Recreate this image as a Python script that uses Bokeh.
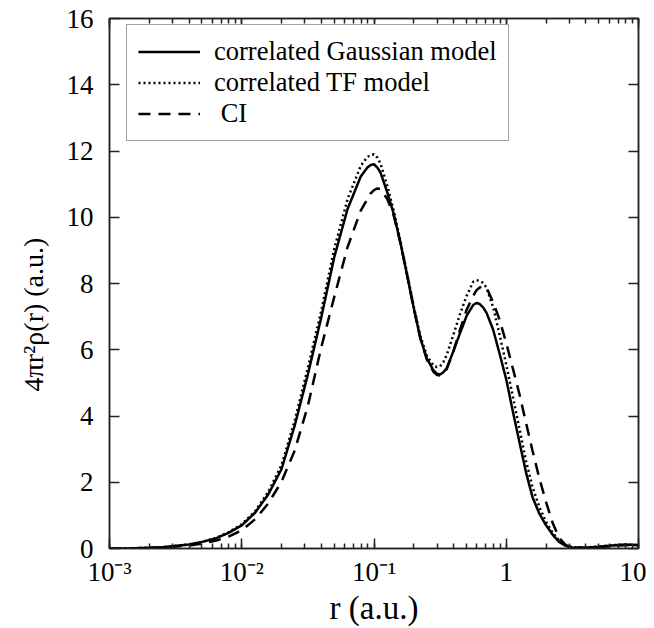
from bokeh.plotting import figure
from bokeh.models import (Range1d, LogAxis, LinearAxis, LogTicker, SingleIntervalTicker,
                          CustomJSTickFormatter, Legend, LegendItem, Title)
from bokeh.embed import file_html
from bokeh.resources import INLINE

# radial coordinate r (a.u.)
r = [0.001, 0.00158, 0.00251, 0.00398, 0.00501, 0.00631, 0.00794, 0.01, 0.0126, 0.0158,
     0.02, 0.0251, 0.0316, 0.0398, 0.0501, 0.0631, 0.0794, 0.0891, 0.0944, 0.1,
     0.106, 0.112, 0.126, 0.141, 0.158, 0.178, 0.2, 0.224, 0.251, 0.282,
     0.299, 0.316, 0.335, 0.355, 0.398, 0.447, 0.501, 0.562, 0.596, 0.631,
     0.668, 0.708, 0.794, 0.891, 1.0, 1.12, 1.26, 1.41, 1.58, 1.78,
     2.0, 2.24, 2.51, 2.82, 3.16, 3.98, 5.01, 6.31, 7.94, 10.0]

gauss = [0.0, 0.01, 0.04, 0.12, 0.2, 0.3, 0.47, 0.7, 1.08, 1.62,
         2.4, 3.7, 5.25, 6.95, 8.8, 10.25, 11.23, 11.5, 11.58, 11.6,
         11.5, 11.35, 10.75, 10.1, 9.25, 8.25, 7.25, 6.35, 5.73, 5.38,
         5.28, 5.25, 5.32, 5.45, 5.95, 6.5, 7.02, 7.35, 7.41, 7.38,
         7.28, 7.12, 6.62, 5.88, 5.1, 4.15, 3.2, 2.3, 1.55, 1.05,
         0.7, 0.42, 0.2, 0.08, 0.03, 0.02, 0.05, 0.09, 0.12, 0.1]

tf = [0.0, 0.01, 0.04, 0.12, 0.2, 0.31, 0.49, 0.73, 1.12, 1.7,
      2.52, 3.85, 5.45, 7.15, 9.05, 10.55, 11.55, 11.82, 11.88, 11.9,
      11.8, 11.62, 10.95, 10.2, 9.3, 8.3, 7.3, 6.42, 5.82, 5.52,
      5.48, 5.5, 5.63, 5.85, 6.45, 7.08, 7.62, 8.05, 8.1, 8.08,
      8.02, 7.88, 7.3, 6.45, 5.55, 4.6, 3.6, 2.65, 1.85, 1.25,
      0.8, 0.48, 0.24, 0.1, 0.04, 0.03, 0.06, 0.1, 0.12, 0.11]

ci = [0.0, 0.01, 0.03, 0.09, 0.15, 0.23, 0.36, 0.55, 0.88, 1.35,
      2.02, 2.95, 4.3, 6.05, 7.6, 9.1, 10.2, 10.55, 10.72, 10.82,
      10.87, 10.85, 10.55, 10.05, 9.25, 8.25, 7.25, 6.35, 5.7, 5.33,
      5.24, 5.22, 5.28, 5.42, 5.95, 6.6, 7.2, 7.62, 7.8, 7.88,
      7.92, 7.88, 7.45, 6.9, 6.2, 5.45, 4.65, 3.8, 2.95, 2.12,
      1.4, 0.78, 0.32, 0.1, 0.04, 0.02, 0.04, 0.08, 0.1, 0.09]

x_tick_exps = [-3, -2, -1, 0, 1]
x_tick_labels = ["10⁻³", "10⁻²", "10⁻¹", "1", "10"]
series_labels = ["correlated Gaussian model", "correlated TF model", " CI"]
x_title = "r (a.u.)"
y_title = "4πr²ρ(r) (a.u.)"

FONT = "Liberation Serif"
AX = "#222222"

p = figure(width=646, height=628, x_axis_type="log",
           x_range=Range1d(1e-3, 10), y_range=Range1d(0, 16),
           output_backend="svg", toolbar_location=None,
           min_border_left=109, min_border_right=8,
           min_border_top=18, min_border_bottom=79)
p.xgrid.visible = False
p.ygrid.visible = False
p.outline_line_color = AX
p.outline_line_width = 1.5
p.background_fill_color = "white"
p.border_fill_color = "white"

xt = LogTicker(num_minor_ticks=10, desired_num_ticks=5)
yt = SingleIntervalTicker(interval=2, num_minor_ticks=0)

xa = p.xaxis[0]
xa.ticker = xt
xa.formatter = CustomJSTickFormatter(
    args=dict(exps=x_tick_exps, labels=x_tick_labels),
    code="const e = Math.round(Math.log10(tick)); const i = exps.indexOf(e); return i >= 0 ? labels[i] : '';")
xa.axis_label = x_title

ya = p.yaxis[0]
ya.ticker = yt

for ax in (xa, ya):
    ax.axis_line_color = AX
    ax.axis_line_width = 1.5
    ax.major_tick_line_color = AX
    ax.major_tick_line_width = 1.5
    ax.minor_tick_line_color = AX
    ax.minor_tick_line_width = 1.5
    ax.major_tick_in = 10
    ax.major_tick_out = 0
    ax.minor_tick_in = 5
    ax.minor_tick_out = 0
    ax.major_label_text_font = FONT
    ax.major_label_text_font_size = "27px"
    ax.major_label_text_color = "black"
    ax.axis_label_text_font = FONT
    ax.axis_label_text_font_style = "normal"
    ax.axis_label_text_color = "black"

xa.major_label_standoff = 8
xa.axis_label_text_font_size = "33px"
xa.axis_label_standoff = 0
ya.major_label_standoff = 16

p.add_layout(Title(text=y_title, align="left", offset=157, vertical_align="bottom",
                   standoff=30, text_font=FONT, text_font_size="28px",
                   text_font_style="normal", text_color="black"), "left")

top = LogAxis(ticker=xt, formatter=CustomJSTickFormatter(code="return ' ';"),
              major_label_text_font_size="2px", major_label_standoff=0,
              major_tick_in=10, major_tick_out=0, minor_tick_in=5, minor_tick_out=0,
              axis_line_color=AX, axis_line_width=1.5,
              major_tick_line_color=AX, major_tick_line_width=1.5,
              minor_tick_line_color=AX, minor_tick_line_width=1.5)
p.add_layout(top, "above")
right = LinearAxis(ticker=yt, formatter=CustomJSTickFormatter(code="return ' ';"),
                   major_label_text_font_size="2px", major_label_standoff=0,
                   major_tick_in=10, major_tick_out=0, minor_tick_in=0, minor_tick_out=0,
                   axis_line_color=AX, axis_line_width=1.5,
                   major_tick_line_color=AX, major_tick_line_width=1.5)
p.add_layout(right, "right")

l_ci = p.line(r, ci, line_color="black", line_width=2.5, line_dash="12 8")
l_g = p.line(r, gauss, line_color="black", line_width=2.5)
l_tf = p.line(r, tf, line_color="black", line_width=2.5, line_dash="2 3")

legend = Legend(items=[LegendItem(label=series_labels[0], renderers=[l_g]),
                       LegendItem(label=series_labels[1], renderers=[l_tf]),
                       LegendItem(label=series_labels[2], renderers=[l_ci])],
                location=(17, 407), padding=11, spacing=0, margin=0,
                glyph_width=62, glyph_height=29, label_height=29, label_standoff=14,
                label_text_font=FONT, label_text_font_size="26.5px", label_text_color="black",
                border_line_color="#444444", border_line_width=1.5,
                background_fill_color="white", background_fill_alpha=1.0)
p.add_layout(legend)

open("out.html", "w").write(file_html(p, INLINE))
